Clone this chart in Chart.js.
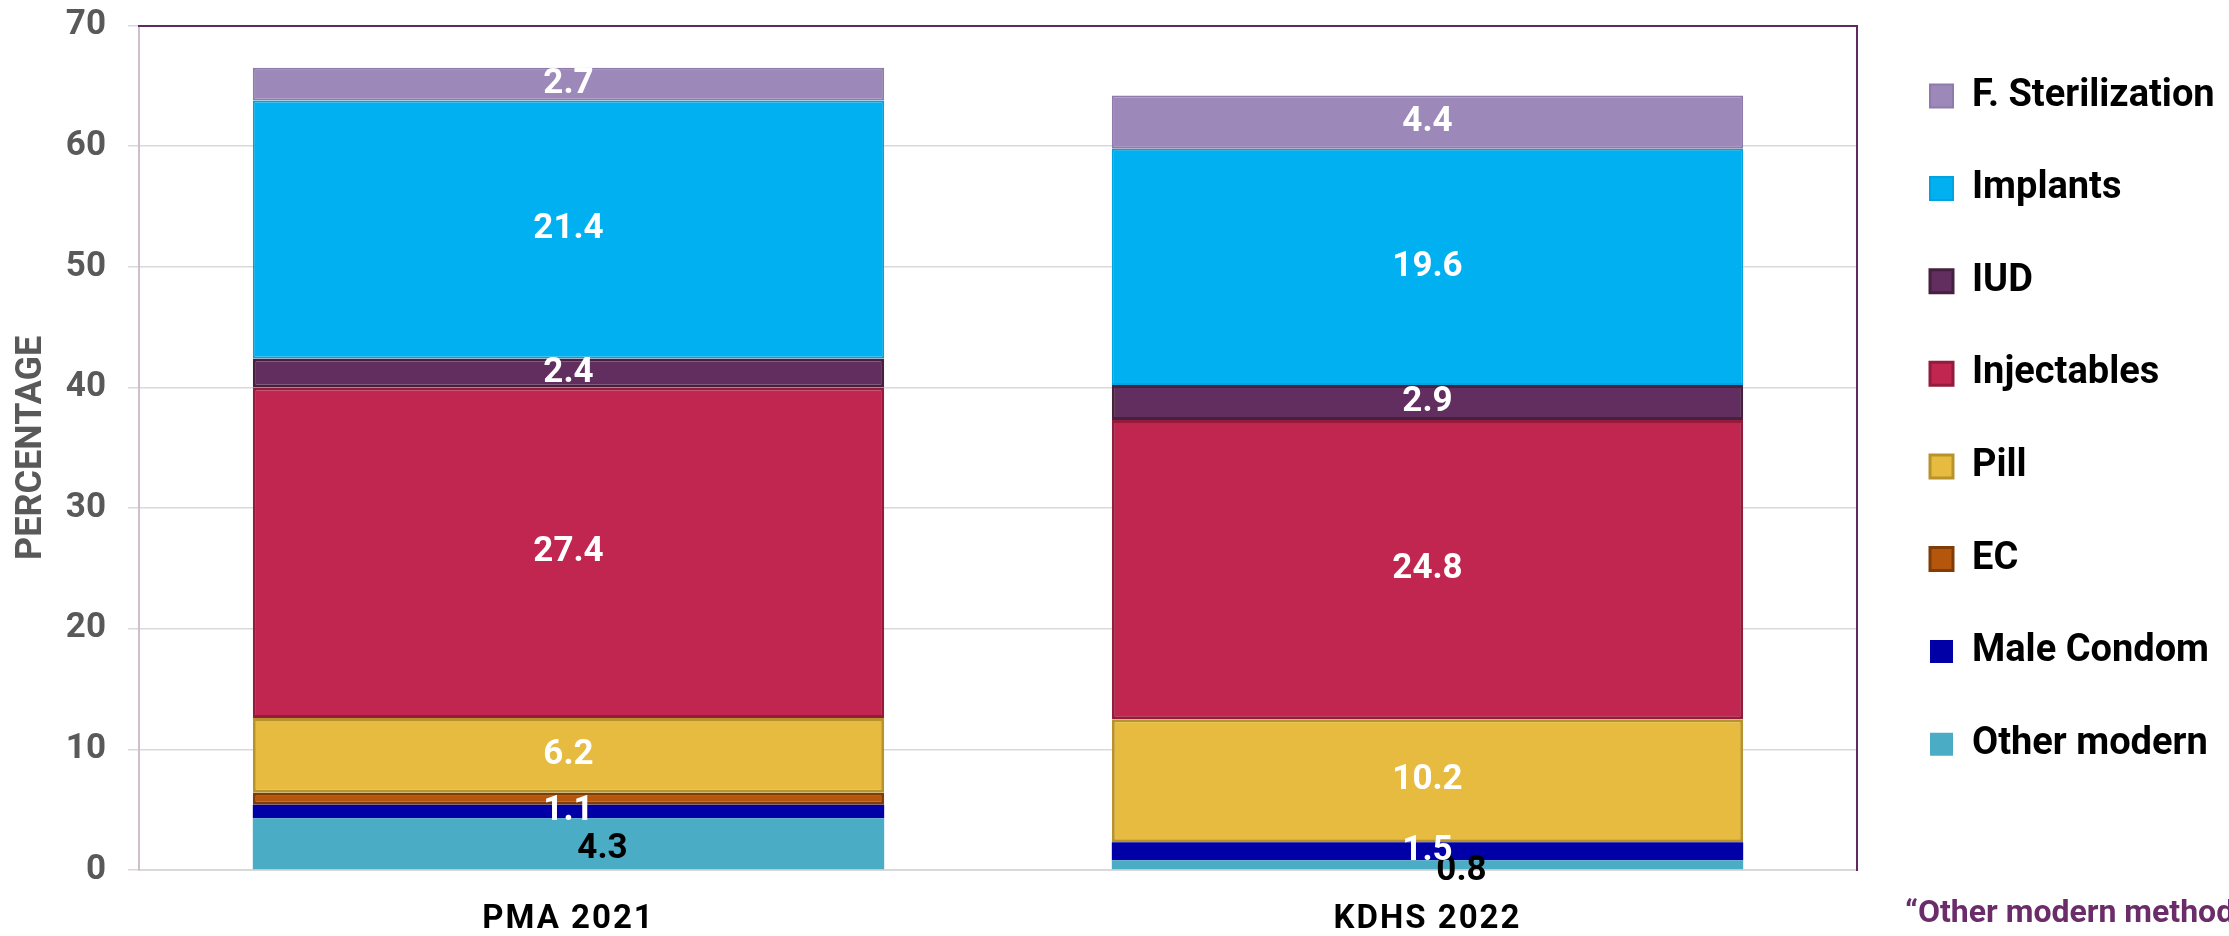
<!DOCTYPE html>
<html>
<head>
<meta charset="utf-8">
<script src="https://cdn.jsdelivr.net/npm/chart.js@4/dist/chart.umd.min.js"></script>
<style>
  html, body { margin: 0; padding: 0; background: #fff; }
  #wrap { width: 2229px; height: 936px; position: relative; }
</style>
</head>
<body>
<div id="wrap"><canvas id="canvas"></canvas></div>
<script>
// categories and series (percent of users by method)
var categories = ['PMA 2021', 'KDHS 2022'];
var otherModern = [4.3, 0.8];
var maleCondom = [1.1, 1.5];
var ec = [1.0, 0];
var pill = [6.2, 10.2];
var injectables = [27.4, 24.8];
var iud = [2.4, 2.9];
var implants = [21.4, 19.6];
var fSterilization = [2.7, 4.4];
var yTicks = [0, 10, 20, 30, 40, 50, 60, 70];

var FONT = 'Roboto';
var legendFontSize = 38;
var legendPad = 92.6 - legendFontSize;

// plot frame wanted: left 139, top 25.6, right 1857, bottom 870
var padTop = 21.9 + (39 - legendFontSize) / 2, padLeft = 6, padBottom = 1;

// legend sits right of the plot; size the space around it from its widest label
var names = ['Other modern', 'Male Condom', 'EC', 'Pill', 'Injectables', 'IUD', 'Implants', 'F. Sterilization'];
var mctx = document.createElement('canvas').getContext('2d');
mctx.font = 'bold ' + legendFontSize + 'px ' + FONT;
var maxW = 0;
names.forEach(function(n) { maxW = Math.max(maxW, mctx.measureText(n).width); });
// chart.js adds 10px to a vertical legend's width
var legendW = legendPad + 23 + legendFontSize / 2 + maxW + 10;
var rightGap = 1930 - legendPad - 1857;
var padRight = 2229 - 1857 - rightGap - legendW;
if (padRight < 0) { rightGap = Math.max(0, rightGap + padRight); padRight = 0; }

function series(label, data, bg, border, bw) {
  return {
    label: label, data: data, backgroundColor: bg,
    borderColor: border, borderWidth: bw, borderSkipped: false,
    categoryPercentage: 1, barPercentage: 0.735
  };
}

var segmentLabels = {
  id: 'segmentLabels',
  afterDatasetsDraw: function(chart) {
    var ctx = chart.ctx;
    ctx.save();
    ctx.font = 'bold 35px ' + FONT;
    ctx.textAlign = 'center';
    ctx.textBaseline = 'middle';
    chart.data.datasets.forEach(function(ds, i) {
      if (ds.label === 'EC') return;
      var meta = chart.getDatasetMeta(i);
      meta.data.forEach(function(bar, j) {
        var v = ds.data[j];
        if (!v) return;
        var dx = 0, dy = 0;
        ctx.fillStyle = '#ffffff';
        if (ds.label === 'Other modern') { dx = 34; dy = 6; ctx.fillStyle = '#000000'; }
        ctx.fillText(v.toFixed(1), bar.x + dx, (bar.y + bar.base) / 2 + dy);
      });
    });
    ctx.restore();
    // category labels come next (ticks.z = 1), spaced out a little
    ctx.letterSpacing = '2px';
  },
  afterDraw: function(chart) {
    var ctx = chart.ctx;
    ctx.letterSpacing = '0px';
    ctx.save();
    ctx.font = 'bold 32px ' + FONT;
    ctx.fillStyle = '#6b2d6a';
    ctx.textAlign = 'left';
    ctx.textBaseline = 'alphabetic';
    ctx.fillText('\u201cOther modern methods', chart.chartArea.right + 48, 922);
    ctx.restore();
  }
};

var ctx = document.getElementById('canvas').getContext('2d');
var chart = new Chart(ctx, {
  type: 'bar',
  data: {
    labels: categories,
    datasets: [
      series('Other modern', otherModern, '#4bacc6', '#4bacc6', 0),
      series('Male Condom', maleCondom, '#0000a6', '#0000a6', 0),
      series('EC', ec, '#b4560b', '#7f3c06', 3),
      series('Pill', pill, '#e6bb3f', '#b8932b', 3),
      series('Injectables', injectables, '#c0264f', '#951b3c', 3),
      series('IUD', iud, '#622d5f', '#46203f', 3),
      series('Implants', implants, '#00b0f0', '#00a3df', 2),
      series('F. Sterilization', fSterilization, '#9d89b9', '#8e7aab', 2)
    ]
  },
  options: {
    responsive: true,
    maintainAspectRatio: false,
    animation: false,
    devicePixelRatio: 1,
    layout: { padding: { left: padLeft, top: padTop, right: padRight, bottom: padBottom } },
    plugins: {
      tooltip: { enabled: false },
      legend: {
        position: 'right',
        align: 'start',
        reverse: true,
        labels: {
          color: '#000000',
          font: { family: FONT, weight: 'bold', size: legendFontSize },
          boxWidth: 23,
          boxHeight: 23,
          padding: legendPad
        }
      }
    },
    scales: {
      x: {
        stacked: true,
        afterFit: function(s) { s.height = 65; s.paddingLeft = 0; s.paddingRight = 0; },
        ticks: { color: '#000000', font: { family: FONT, weight: 'bold', size: 33, lineHeight: 1 }, padding: 33, z: 1 },
        grid: { display: false, drawTicks: false },
        border: { color: '#d9d9d9', width: 2 }
      },
      y: {
        stacked: true,
        min: yTicks[0],
        max: yTicks[yTicks.length - 1],
        afterBuildTicks: function(axis) {
          axis.ticks = yTicks.map(function(v) { return { value: v }; });
        },
        afterFit: function(s) { s.width = 139 - padLeft; s.paddingTop = 0; s.paddingBottom = 0; },
        ticks: { color: '#595959', font: { family: FONT, weight: 'bold', size: 35 }, padding: 22 },
        grid: { color: '#d9d9d9', lineWidth: 1.5, tickLength: 11 },
        border: { color: '#cdbfcc', width: 2 },
        title: {
          display: true, text: 'PERCENTAGE', color: '#595959',
          font: { family: FONT, weight: 'bold', size: 36, lineHeight: 1.2 },
          padding: { top: 4, bottom: 16 }
        }
      },
      xTop: {
        type: 'category', position: 'top', display: true,
        afterFit: function(s) { s.height = 25.6 - padTop; },
        ticks: { display: false },
        grid: { display: false, drawTicks: false },
        border: { color: '#5f2a5f', width: 2 }
      },
      yRight: {
        type: 'linear', position: 'right', display: true,
        afterFit: function(s) { s.width = rightGap; },
        ticks: { display: false },
        grid: { display: false, drawTicks: false },
        border: { color: '#5f2a5f', width: 2 }
      }
    }
  },
  plugins: [segmentLabels]
});
</script>
</body>
</html>
